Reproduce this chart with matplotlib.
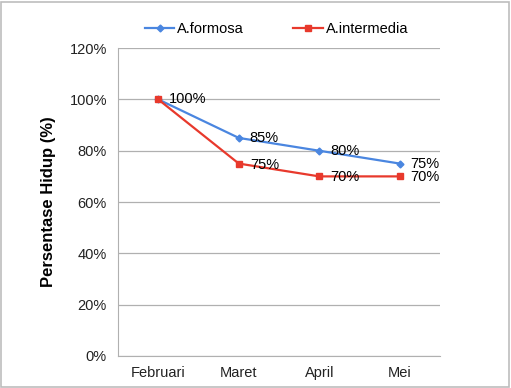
import matplotlib
matplotlib.use('Agg')
import matplotlib.pyplot as plt
from matplotlib.patches import Rectangle
from matplotlib.ticker import FuncFormatter

plt.rcParams['font.family'] = ['Liberation Sans', 'DejaVu Sans']

months = ["Februari", "Maret", "April", "Mei"]
formosa = [100, 85, 80, 75]
intermedia = [100, 75, 70, 70]

blue = '#4a86e0'
red = '#e8392c'
fs = 10.5

fig = plt.figure(figsize=(5.11, 3.88), dpi=100)
ax = fig.add_axes([0.231, 0.0825, 0.63, 0.7935])

x = range(len(months))
ax.plot(x, formosa, color=blue, marker='D', markersize=3.5, lw=1.6, label='A.formosa', zorder=3)
ax.plot(x, intermedia, color=red, marker='s', markersize=5, lw=1.6, label='A.intermedia', zorder=3)

# data labels
for i, v in enumerate(formosa):
    ax.annotate(f"{v}%", (i, v), xytext=(11, 0), textcoords='offset pixels',
                va='center', ha='left', fontsize=fs, color='black', zorder=4)
for i, v in enumerate(intermedia):
    if i == 0:
        continue
    ax.annotate(f"{v}%", (i, v), xytext=(11, -1), textcoords='offset pixels',
                va='center', ha='left', fontsize=fs, color='black', zorder=4)

ax.set_xlim(-0.5, 3.5)
ax.set_ylim(0, 120)
ax.set_yticks(range(0, 121, 20))
ax.yaxis.set_major_formatter(FuncFormatter(lambda v, p: f"{int(v)}%"))
ax.set_xticks(list(x))
ax.set_xticklabels(months)
ax.tick_params(axis='both', labelsize=fs, colors='#222222', length=0)
ax.tick_params(axis='x', pad=7)
ax.tick_params(axis='y', pad=8)
ax.grid(axis='y', color='#b0b0b0', lw=0.9)
ax.set_axisbelow(True)
for s in ['top', 'right']:
    ax.spines[s].set_visible(False)
for s in ['left', 'bottom']:
    ax.spines[s].set_color('#b0b0b0')
ax.set_ylabel("Persentase Hidup (%)", fontsize=12, fontweight='bold', labelpad=10)

ax.legend(loc='center left', bbox_to_anchor=(0.043, 1.062), ncol=2, frameon=False,
          fontsize=fs, handlelength=2.0, handletextpad=0.2, columnspacing=3.4)

fig.patches.append(Rectangle((0.002, 0.003), 0.995, 0.993, transform=fig.transFigure,
                             fill=False, edgecolor='#bdbdbd', lw=1.2))

fig.savefig('out.png', dpi=100)
